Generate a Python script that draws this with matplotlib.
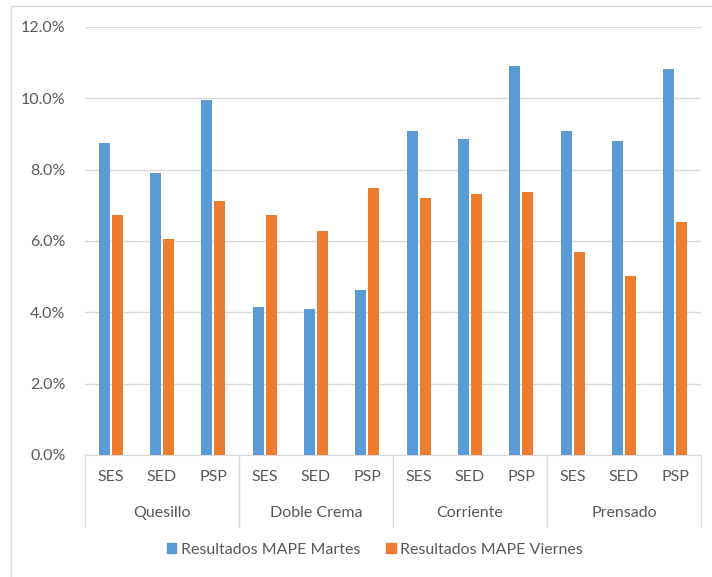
import matplotlib
matplotlib.use("Agg")
import matplotlib.pyplot as plt
from matplotlib.lines import Line2D
from matplotlib.patches import Patch
import numpy as np

# MAPE por tipo de queso y método de pronóstico
grupos = ["Quesillo", "Doble Crema", "Corriente", "Prensado"]
metodos = ["SES", "SED", "PSP"]
mape_martes = [8.75, 7.91, 9.96,
               4.15, 4.08, 4.62,
               9.08, 8.87, 10.92,
               9.08, 8.79, 10.82]
mape_viernes = [6.74, 6.07, 7.11,
                6.74, 6.28, 7.50,
                7.21, 7.33, 7.37,
                5.69, 5.03, 6.53]

azul = "#5B9BD5"
naranja = "#ED7D31"
gris_texto = "#595959"
gris_linea = "#D9D9D9"

plt.rcParams["font.family"] = ["Lato", "DejaVu Sans"]
tam = 11.5

W, H = 712, 577
fig = plt.figure(figsize=(W / 100, H / 100), dpi=100)
ax = fig.add_axes([85 / W, (H - 455) / H, (701 - 85) / W, (455 - 27) / H])

n = len(mape_martes)
x = np.arange(n)
ancho = 0.215
desp = 0.125
ax.bar(x - desp, mape_martes, ancho, color=azul, zorder=3)
ax.bar(x + desp, mape_viernes, ancho, color=naranja, zorder=3)

ax.set_xlim(-0.5, n - 0.5)
ax.set_ylim(0, 12)
ax.set_yticks(np.arange(0, 12.1, 2))
ax.set_yticklabels([f"{v:.1f}%" for v in np.arange(0, 12.1, 2)])
ax.tick_params(axis="y", length=0, pad=14, labelsize=tam, labelcolor=gris_texto)
ax.set_xticks([])
ax.grid(axis="y", color=gris_linea, linewidth=1, zorder=0)
for s in ["top", "right", "left"]:
    ax.spines[s].set_visible(False)
ax.spines["bottom"].set_color(gris_linea)

# eje de categorías en dos niveles
trans = ax.get_xaxis_transform()
for i in range(n):
    ax.text(x[i], -0.0514, metodos[i % 3], transform=trans, ha="center",
            va="center", fontsize=tam, color=gris_texto)
for g, nombre in enumerate(grupos):
    ax.text(g * 3 + 1, -0.1355, nombre, transform=trans, ha="center",
            va="center", fontsize=tam, color=gris_texto)
for b in np.arange(-0.5, n, 3):
    ax.plot([b, b], [0, -0.168], transform=trans, color=gris_linea,
            linewidth=1, clip_on=False)

handles = [Patch(color=azul), Patch(color=naranja)]
fig.legend(handles, ["Resultados MAPE Martes", "Resultados MAPE Viernes"],
           loc="center", bbox_to_anchor=(375 / W, 1 - 550 / H), ncol=2,
           frameon=False, fontsize=tam, labelcolor=gris_texto,
           handlelength=0.6, handleheight=0.6, handletextpad=0.3,
           columnspacing=1.6)

# marco del área del gráfico
fig.add_artist(Line2D([11 / W, 1], [1 - 6 / H, 1 - 6 / H], color=gris_linea, linewidth=1))
fig.add_artist(Line2D([11 / W, 11 / W], [0, 1 - 6 / H], color=gris_linea, linewidth=1))

fig.savefig("out.png", dpi=100, facecolor="white")
